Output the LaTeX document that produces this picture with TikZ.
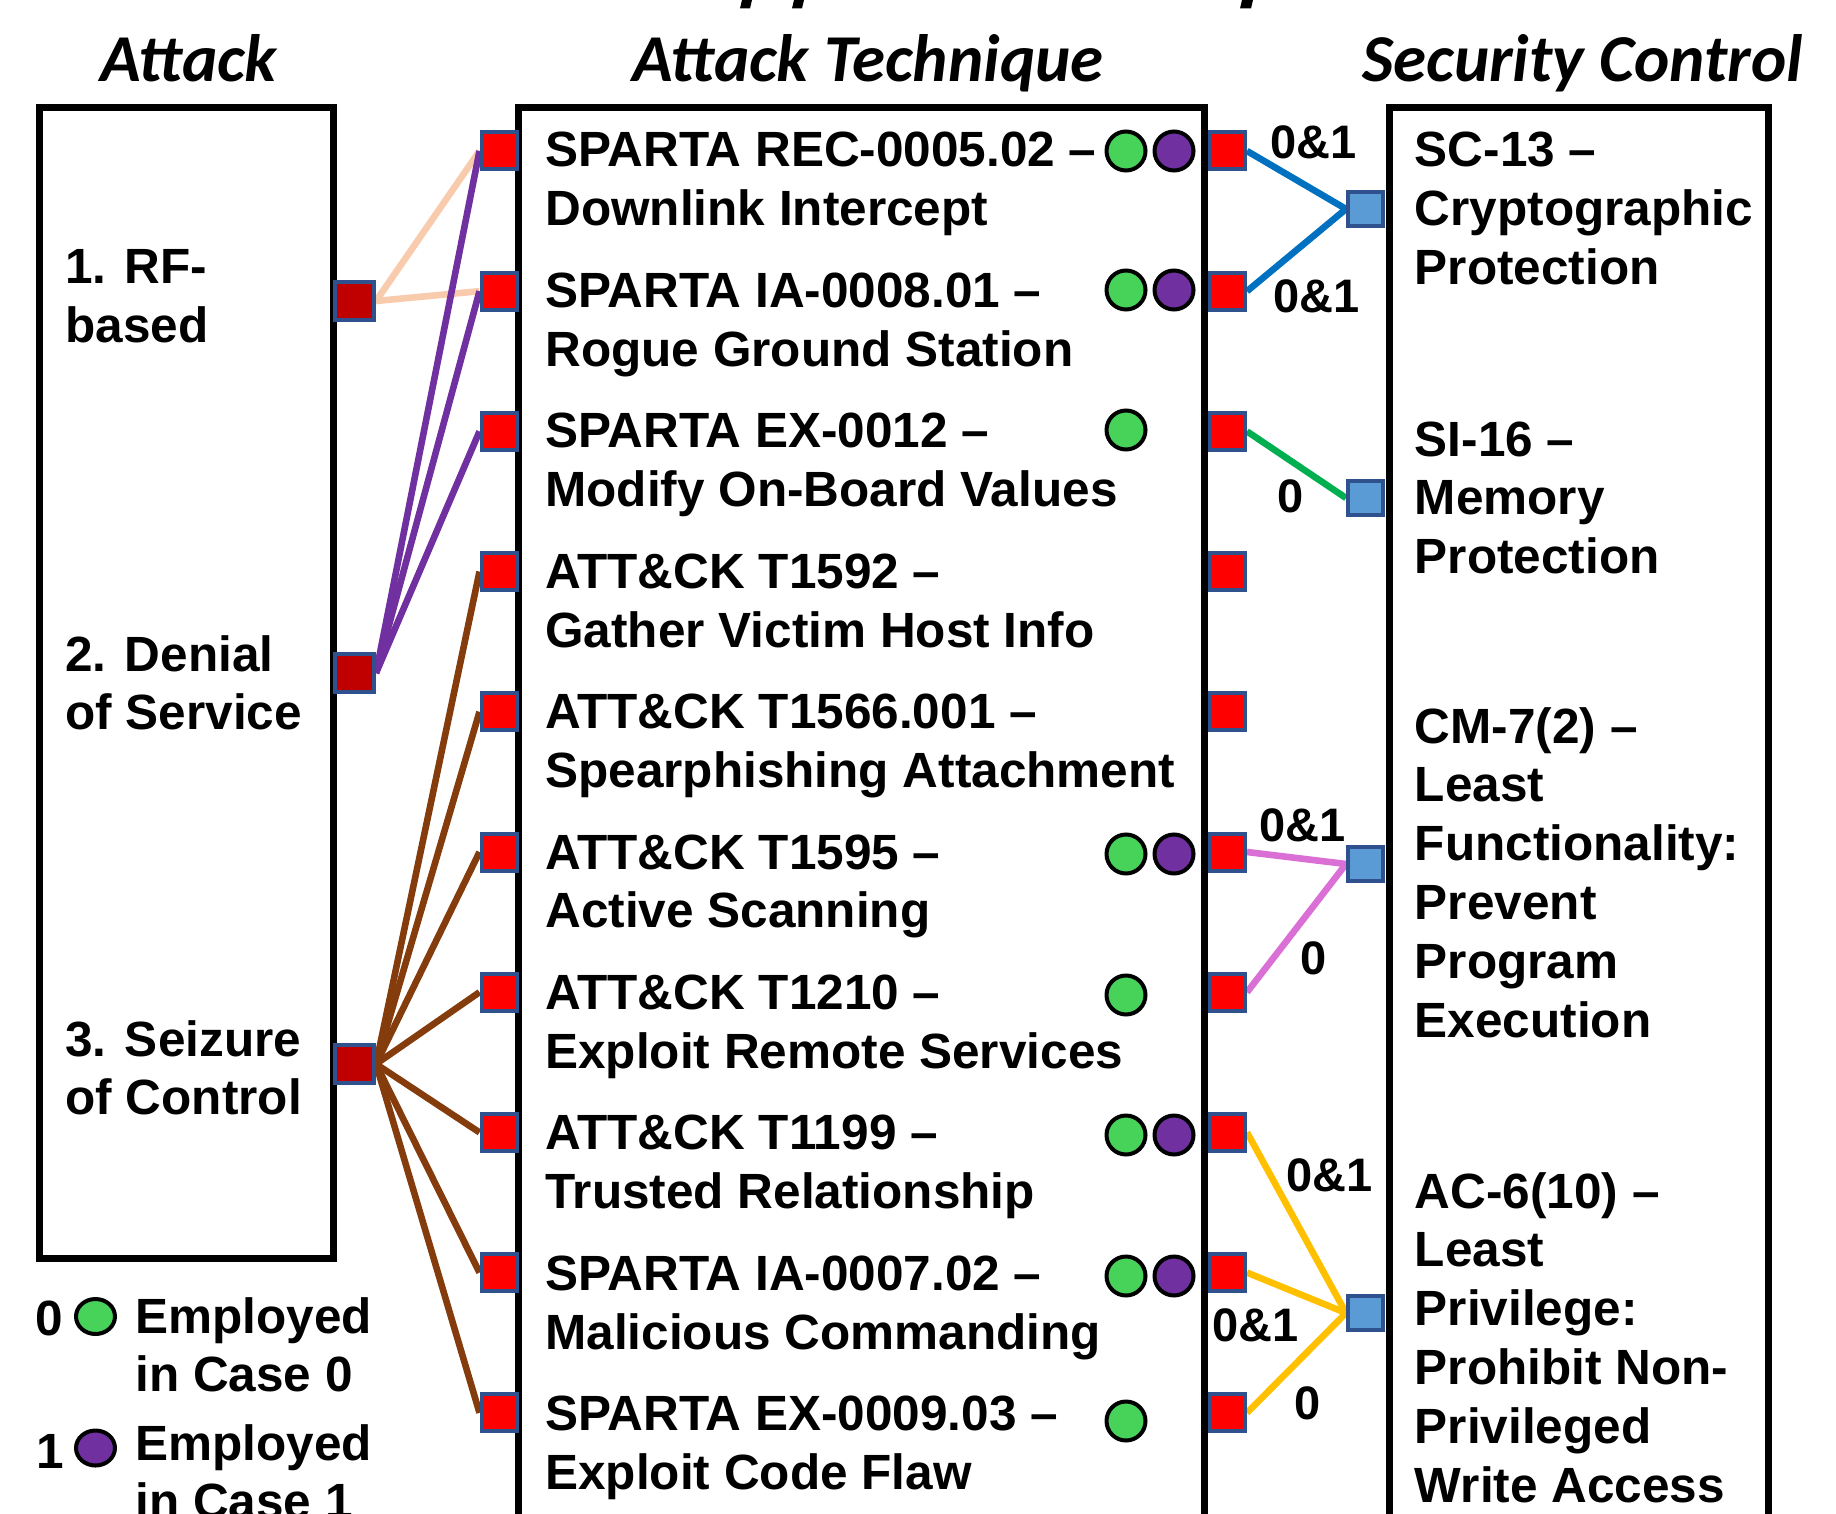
\documentclass[tikz,border=0pt]{standalone}
\usepackage{fontspec}
\setmainfont{Liberation Sans}
\newfontfamily\headfont{Carlito}
\usetikzlibrary{shapes.geometric}

\definecolor{sqborder}{HTML}{2F528F}
\definecolor{techred}{HTML}{FF0000}
\definecolor{attackred}{HTML}{C00000}
\definecolor{ctrlblue}{HTML}{5B9BD5}
\definecolor{linkpeach}{HTML}{F8CBAD}
\definecolor{linkpurple}{HTML}{7030A0}
\definecolor{linkbrown}{HTML}{843C0C}
\definecolor{linkblue}{HTML}{0070C0}
\definecolor{linkgreen}{HTML}{00B050}
\definecolor{linkorchid}{HTML}{DA70D6}
\definecolor{linkgold}{HTML}{FFC000}
\definecolor{dotgreen}{HTML}{47D35A}
\definecolor{dotpurple}{HTML}{7030A0}

\pgfdeclarelayer{links}
\pgfsetlayers{links,main}

\begin{document}
\begin{tikzpicture}[x=0.5pt,y=-0.5pt,
  panel/.style={draw=black, line width=3.5pt},
  heading/.style={anchor=base west, inner sep=0pt, font=\headfont\bfseries\itshape\fontsize{33.5}{40}\selectfont},
  txt/.style={anchor=base west, inner sep=0pt, font=\bfseries\fontsize{24.75}{29.4}\selectfont},
  tag/.style={anchor=base west, inner sep=0pt, font=\bfseries\fontsize{23.5}{28}\selectfont},
  sqbase/.style={rectangle, draw=sqborder, line width=2pt, inner sep=0pt},
  attacksq/.style={sqbase, fill=attackred, minimum width=19.5pt, minimum height=19pt},
  techsq/.style={sqbase, fill=techred, minimum width=17.5pt, minimum height=18.5pt},
  ctrlsq/.style={sqbase, fill=ctrlblue, minimum width=17.5pt, minimum height=17pt},
  casedot/.style={circle, draw=black, line width=2pt, minimum size=19.5pt, inner sep=0pt},
  keydot/.style={ellipse, draw=black, line width=2pt, minimum width=19.5pt, minimum height=17.5pt, inner sep=0pt},
  conn/.style={line width=3.3pt},
]
\useasboundingbox (0,0) rectangle (1836,1514);
\clip (0,0) rectangle (1836,1514);

% descender tails of the title line above
\fill (740,8.5) -- (750,8.5) -- (752,0) -- (742,0) -- cycle;
\fill (792,8.5) -- (802,8.5) -- (804,0) -- (794,0) -- cycle;
\fill (1240,8.5) -- (1251,8.5) -- (1253,0) -- (1242,0) -- cycle;

% column frames
\draw[panel] (39.5,107.5) rectangle (333.5,1258.5);
\draw[panel] (518.5,107.5) rectangle (1204,1700);
\draw[panel] (1389.5,107.5) rectangle (1768,1700);

% column headings
\node[heading] (hAttack) at (100,82) {Attack};
\node[heading] (hTech) at (632,82) {Attack Technique};
\node[heading] (hCtrl) at (1362,82) {Security Control};

% attacks
\node[txt] (at1) at (65,284) {\begin{tabular}[t]{@{}l@{}}1. RF-\\based\end{tabular}};
\node[txt] (at2) at (65,671) {\begin{tabular}[t]{@{}l@{}}2. Denial\\of Service\end{tabular}};
\node[txt] (at3) at (65,1056) {\begin{tabular}[t]{@{}l@{}}3. Seizure\\of Control\end{tabular}};
\node[attacksq] (a1) at (354.5,301) {};
\node[attacksq] (a2) at (354.5,673) {};
\node[attacksq] (a3) at (354.5,1064) {};

% attack techniques
\foreach \k/\a/\b in {
  1/{SPARTA REC-0005.02}/{Downlink Intercept},
  2/{SPARTA IA-0008.01}/{Rogue Ground Station},
  3/{SPARTA EX-0012}/{Modify On-Board Values},
  4/{ATT\&CK T1592}/{Gather Victim Host Info},
  5/{ATT\&CK T1566.001}/{Spearphishing Attachment},
  6/{ATT\&CK T1595}/{Active Scanning},
  7/{ATT\&CK T1210}/{Exploit Remote Services},
  8/{ATT\&CK T1199}/{Trusted Relationship},
  9/{SPARTA IA-0007.02}/{Malicious Commanding},
  10/{SPARTA EX-0009.03}/{Exploit Code Flaw}} {
  \pgfmathsetmacro\sqy{151+140.2*(\k-1)}
  \pgfmathsetmacro\txy{167+140.4*(\k-1)}
  \node[techsq] (tl\k) at (499,\sqy) {};
  \node[techsq] (tr\k) at (1227.5,\sqy) {};
  \node[txt] (tt\k) at (545,\txy) {\begin{tabular}[t]{@{}l@{}}\a\ \textendash\\\b\end{tabular}};
}

% case markers
\node[casedot, fill=dotgreen]  (g1) at (1126,151) {};
\node[casedot, fill=dotpurple] (p1) at (1174,151) {};
\node[casedot, fill=dotgreen]  (g2) at (1126,290) {};
\node[casedot, fill=dotpurple] (p2) at (1174,290) {};
\node[casedot, fill=dotgreen]  (g3) at (1126,430) {};
\node[casedot, fill=dotgreen]  (g6) at (1126,854) {};
\node[casedot, fill=dotpurple] (p6) at (1174,854) {};
\node[casedot, fill=dotgreen]  (g7) at (1126,995) {};
\node[casedot, fill=dotgreen]  (g8) at (1126,1135) {};
\node[casedot, fill=dotpurple] (p8) at (1174,1135) {};
\node[casedot, fill=dotgreen]  (g9) at (1126,1276) {};
\node[casedot, fill=dotpurple] (p9) at (1174,1276) {};
\node[casedot, fill=dotgreen]  (g10) at (1126,1421) {};

% security controls
\node[ctrlsq] (c1) at (1365.5,209) {};
\node[ctrlsq] (c2) at (1365.5,498) {};
\node[ctrlsq] (c3) at (1365.5,864) {};
\node[ctrlsq] (c4) at (1365.5,1313) {};
\node[txt] (ct1) at (1414.5,167) {\begin{tabular}[t]{@{}l@{}}SC-13 \textendash\\Cryptographic\\Protection\end{tabular}};
\node[txt] (ct2) at (1414.5,456) {\begin{tabular}[t]{@{}l@{}}SI-16 \textendash\\Memory\\Protection\end{tabular}};
\node[txt] (ct3) at (1414.5,743) {\begin{tabular}[t]{@{}l@{}}CM-7(2) \textendash\\Least\\Functionality:\\Prevent\\Program\\Execution\end{tabular}};
\node[txt] (ct4) at (1414.5,1208) {\begin{tabular}[t]{@{}l@{}}AC-6(10) \textendash\\Least\\Privilege:\\Prohibit Non-\\Privileged\\Write Access\end{tabular}};

% connectors
\begin{pgfonlayer}{links}
\draw[conn, linkpeach] (a1.east) -- (tl1.west);
\draw[conn, linkpeach] (a1.east) -- (tl2.west);
\foreach \k in {1,2,3} \draw[conn, linkpurple] (a2.east) -- (tl\k.west);
\foreach \k in {4,...,10} \draw[conn, linkbrown] (a3.east) -- (tl\k.west);
\draw[conn, linkblue] (tr1.east) -- (c1.west);
\draw[conn, linkblue] (tr2.east) -- (c1.west);
\draw[conn, linkgreen] (tr3.east) -- (c2.west);
\draw[conn, linkorchid] (tr6.east) -- (c3.west);
\draw[conn, linkorchid] (tr7.east) -- (c3.west);
\foreach \k in {8,9,10} \draw[conn, linkgold] (tr\k.east) -- (c4.west);
\end{pgfonlayer}

% connector labels
\node[tag] (l1) at (1270,159) {0\&1};
\node[tag] (l2) at (1273,313) {0\&1};
\node[tag] (l3) at (1277,512) {0};
\node[tag] (l6) at (1259,841) {0\&1};
\node[tag] (l7) at (1300,974) {0};
\node[tag] (l8) at (1286,1191) {0\&1};
\node[tag] (l9) at (1212,1341) {0\&1};
\node[tag] (l10) at (1294,1419) {0};

% legend
\node[txt] (k0) at (35,1335) {0};
\node[keydot, fill=dotgreen] (kg) at (95.5,1316.5) {};
\node[txt] (kt0) at (135,1333) {\begin{tabular}[t]{@{}l@{}}Employed\\in Case 0\end{tabular}};
\node[txt] (k1) at (36,1468) {1};
\node[keydot, fill=dotpurple] (kp) at (95.5,1448) {};
\node[txt] (kt1) at (135,1460) {\begin{tabular}[t]{@{}l@{}}Employed\\in Case 1\end{tabular}};
\end{tikzpicture}
\end{document}
